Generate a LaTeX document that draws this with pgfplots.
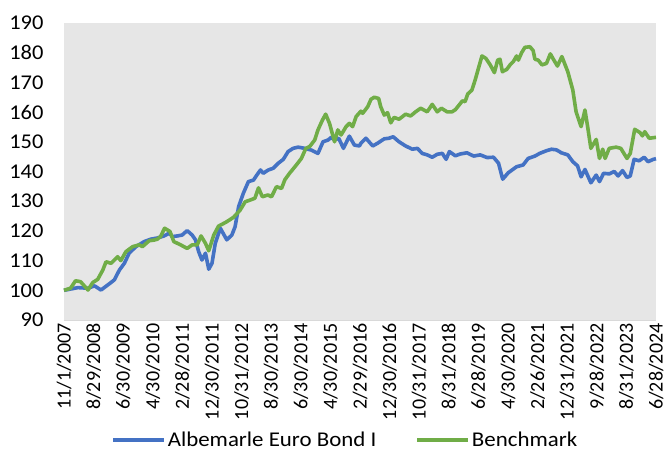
\documentclass[border=0pt]{standalone}
\usepackage{fontspec}
\setmainfont{Carlito}
\newfontfamily\widefont[FakeStretch=1.07]{Carlito}
\newfontfamily\legendfont[FakeStretch=1.09]{Carlito}
\usepackage{pgfplots}
\pgfplotsset{compat=1.18}
\usetikzlibrary{calc}
\definecolor{fundblue}{HTML}{4472C4}
\definecolor{benchgreen}{HTML}{70AD47}
\definecolor{plotgray}{HTML}{E6E6E6}
\definecolor{axisgray}{HTML}{D9D9D9}
\begin{document}
\begin{tikzpicture}
\begin{axis}[
  name=ax,
  scale only axis,
  width=592pt, height=297pt,
  xmin=0, xmax=200, ymin=90, ymax=190,
  ytick={90,100,...,190},
  xtick={0,10,...,200},
  xticklabels={11/1/2007,8/29/2008,6/30/2009,4/30/2010,2/28/2011,12/30/2011,10/31/2012,8/30/2013,6/30/2014,4/30/2015,2/29/2016,12/30/2016,10/31/2017,8/31/2018,6/28/2019,4/30/2020,2/26/2021,12/31/2021,9/28/2022,8/31/2023,6/28/2024},
  /pgf/number format/assume math mode=true,
  x tick label style={font=\fontsize{20}{24}\selectfont, text=black, rotate=90, anchor=east},
  y tick label style={font=\widefont\fontsize{21}{24}\selectfont, text=black, xshift=-17pt},
  major tick length=0pt,
  axis line style={draw=none},
  axis background/.style={fill=plotgray},
  clip=false,
  legend columns=2,
  legend style={at={(0.475,-0.404)}, anchor=center, draw=none, fill=none,
    font=\legendfont\fontsize{21}{24}\selectfont, text=black,
    /tikz/every even column/.append style={column sep=37pt}},
  legend image code/.code={\draw[#1] (0pt,0pt) -- (51pt,0pt);},
]
\draw[axisgray, line width=1pt] (rel axis cs:0,0) -- (rel axis cs:1,0);
\addplot[fundblue, line width=3.6pt, line join=round] coordinates {
(0,100.0)(4.7,100.9)(8.1,100.7)(10.3,101.5)(12.5,100.1)(14.8,101.8)(17.0,103.5)
(18.7,106.8)(20.4,109.1)(22.0,112.5)(24.3,114.7)(27.1,116.4)(29.3,117.2)(31.5,117.6)
(33.8,118.3)(35.5,119.2)(36.6,118.1)(38.3,118.3)(39.9,118.6)(41.6,120.1)(43.3,118.6)
(44.4,117.0)(45.5,113.0)(46.6,110.2)(47.8,112.5)(48.9,107.1)(50.0,109.1)(51.1,115.8)
(52.8,120.9)(55.0,117.0)(56.7,118.6)(57.8,121.4)(59.0,128.2)(60.6,132.7)(62.3,136.6)
(64.0,137.1)(65.7,139.6)(66.4,140.5)(67.3,139.4)(69.0,140.5)(70.7,141.1)(72.4,142.8)
(74.1,144.1)(75.7,146.7)(77.4,147.8)(79.1,148.2)(81.3,147.8)(83.6,147.2)(85.8,146.1)
(87.5,150.0)(89.2,150.6)(90.3,151.5)(91.4,150.6)(92.8,151.2)(94.4,147.8)(96.4,151.9)
(98.1,148.9)(99.8,148.6)(100.3,149.5)(102.0,151.2)(104.3,148.6)(105.9,149.5)(108.2,151.0)
(109.8,151.2)(111.2,151.7)(113.2,150.0)(115.4,148.6)(117.7,147.5)(119.4,147.8)(121.0,146.1)
(122.7,145.6)(124.4,144.8)(126.1,145.8)(127.8,146.1)(129.1,144.1)(130.2,146.7)(132.2,145.3)
(133.9,145.9)(136.1,146.3)(138.4,145.2)(140.6,145.6)(142.9,144.7)(145.1,144.8)(146.8,142.8)
(148.2,137.4)(150.1,139.6)(152.9,141.6)(155.1,142.2)(156.8,144.4)(159.1,145.2)(160.7,146.1)
(163.0,147.0)(164.7,147.5)(166.3,147.3)(167.4,146.7)(168.0,146.3)(170.2,145.6)(171.9,143.3)
(173.5,141.9)(174.7,138.2)(176.0,140.7)(178.0,136.2)(179.8,138.8)(180.9,136.6)(182.3,139.4)
(184.2,139.2)(185.9,140.0)(187.2,138.5)(188.7,140.3)(190.2,138.0)(191.3,138.5)(192.6,144.1)
(194.3,143.6)(196.0,144.8)(197.3,143.3)(199.1,144.1)(200,144.3)
};
\addlegendentry{Albemarle Euro Bond I}
\addplot[benchgreen, line width=3.6pt, line join=round] coordinates {
(0,100.0)(2.2,100.7)(3.9,103.2)(5.6,102.9)(8.1,100.1)(9.7,102.6)(11.4,103.7)(13.1,106.8)
(14.2,109.6)(15.9,109.1)(18.1,111.3)(19.2,110.0)(20.9,113.0)(23.2,114.7)(25.4,115.3)
(26.5,114.7)(28.8,116.7)(30.4,116.9)(31.5,117.2)(32.6,118.1)(34.0,120.9)(35.8,119.8)
(37.1,116.4)(39.4,115.3)(41.6,114.1)(43.3,115.3)(45.0,115.3)(46.3,118.3)(47.8,115.8)
(48.9,113.3)(50.6,118.6)(52.2,121.6)(53.9,122.5)(55.0,123.1)(57.3,124.6)(59.5,127.0)
(61.2,129.8)(62.9,130.4)(64.5,131.0)(65.7,134.5)(67.0,131.5)(68.9,132.1)(70.1,131.5)
(71.8,134.9)(73.5,134.3)(74.6,137.2)(76.2,139.4)(78.5,142.2)(80.2,144.4)(81.7,147.8)
(83.0,148.4)(84.7,150.6)(85.8,154.0)(87.3,157.3)(88.4,159.3)(89.7,156.2)(91.4,150.0)
(92.5,154.0)(93.6,152.3)(95.3,155.1)(96.4,156.2)(97.5,155.1)(98.7,158.5)(100.3,160.3)
(100.9,159.6)(102.6,161.8)(103.7,164.3)(104.8,165.0)(106.3,164.6)(107.0,161.8)(108.2,159.0)
(109.3,159.8)(110.4,156.4)(111.5,158.2)(113.2,157.6)(115.4,159.3)(117.1,158.7)(118.8,160.1)
(120.5,161.3)(122.7,160.1)(124.4,162.6)(126.1,160.1)(127.5,161.3)(129.4,160.1)(131.1,160.1)
(132.2,160.8)(133.5,162.4)(134.6,163.8)(135.5,163.5)(136.4,166.1)(137.8,167.4)(138.9,170.8)
(140.0,174.7)(141.2,178.9)(142.5,178.1)(144.0,175.9)(145.4,173.3)(146.5,177.5)(147.3,177.8)
(148.1,173.6)(149.6,174.4)(150.7,175.9)(151.8,177.0)(152.9,178.9)(153.5,177.5)(154.6,180.0)
(155.7,181.8)(157.4,182.0)(158.5,180.7)(159.1,177.8)(160.2,177.5)(161.5,175.9)(163.0,176.4)
(164.3,179.6)(165.5,177.5)(166.7,175.5)(168.2,178.7)(170.2,173.6)(171.9,167.4)(173.0,160.1)
(174.7,155.1)(176.0,160.7)(176.9,155.1)(178.0,147.8)(179.8,150.8)(180.9,144.4)(182.0,147.5)
(182.8,144.4)(184.2,147.8)(186.5,148.2)(188.1,147.8)(190.2,144.4)(191.3,146.1)(192.8,154.2)
(194.6,153.1)(195.4,152.0)(196.2,153.4)(197.7,151.2)(200,151.5)
};
\addlegendentry{Benchmark}
\end{axis}
\pgfresetboundingbox
\path[use as bounding box] ($(ax.south west)+(-64pt,-135pt)$) rectangle ($(ax.north east)+(12pt,23pt)$);
\end{tikzpicture}
\end{document}
